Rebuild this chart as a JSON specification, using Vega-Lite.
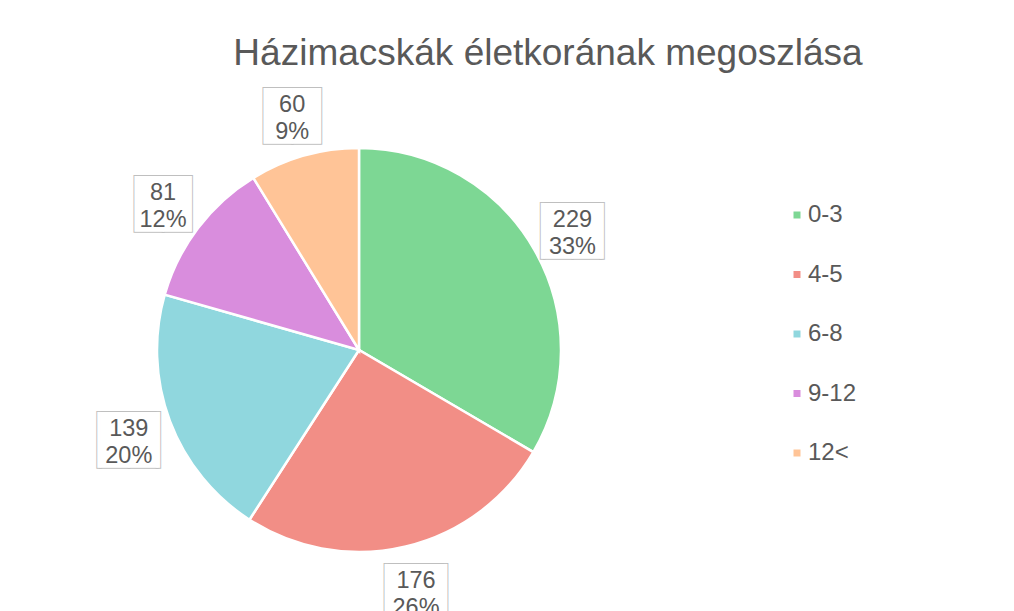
{
  "$schema": "https://vega.github.io/schema/vega-lite/v6.json",
  "autosize": {"type": "none"},
  "padding": {"left": 0, "top": 0, "right": 296, "bottom": 0},
  "width": 718,
  "height": 700,
  "background": "white",
  "config": {"view": {"stroke": null}},
  "title": {
    "text": "Házimacskák életkorának megoszlása",
    "anchor": "middle",
    "frame": "group",
    "dx": 189,
    "offset": -102,
    "baseline": "alphabetic",
    "fontSize": 37,
    "font": "Liberation Sans",
    "fontWeight": "normal",
    "color": "#595959",
    "limit": 1000
  },
  "data": {
    "values": [
      {"age": "0-3", "count": 229, "rank": 1, "label": "229\n33%"},
      {"age": "4-5", "count": 176, "rank": 2, "label": "176\n26%"},
      {"age": "6-8", "count": 139, "rank": 3, "label": "139\n20%"},
      {"age": "9-12", "count": 81, "rank": 4, "label": "81\n12%"},
      {"age": "12<", "count": 60, "rank": 5, "label": "60\n9%"}
    ]
  },
  "encoding": {
    "theta": {"field": "count", "type": "quantitative", "stack": true},
    "order": {"field": "rank", "type": "quantitative"}
  },
  "layer": [
    {
      "mark": {"type": "arc", "outerRadius": 202, "stroke": "white", "strokeWidth": 2.5},
      "encoding": {
        "color": {
          "field": "age",
          "type": "nominal",
          "scale": {
            "domain": ["0-3", "4-5", "6-8", "9-12", "12<"],
            "range": ["#7dd794", "#f28e86", "#90d7de", "#d98ddd", "#ffc497"]
          },
          "legend": {
            "title": null,
            "orient": "none",
            "legendX": 785,
            "legendY": 203,
            "padding": 0,
            "symbolType": "square",
            "symbolSize": 49,
            "symbolStrokeWidth": 0,
            "labelFontSize": 24,
            "labelFont": "Liberation Sans",
            "labelColor": "#595959",
            "labelOffset": -1,
            "rowPadding": 35.5
          }
        }
      }
    },
    {
      "mark": {"type": "text", "radius": 246, "dy": 5, "font": "DejaVu Sans Mono", "fontSize": 47, "baseline": "middle", "align": "center", "fill": "white", "stroke": "#bfbfbf", "strokeWidth": 2},
      "encoding": {"text": {"condition": {"test": "datum.count >= 100", "value": "▕██▏"}, "value": "██"}}
    },
    {
      "mark": {"type": "text", "radius": 246, "dy": 5, "font": "DejaVu Sans Mono", "fontSize": 47, "baseline": "middle", "align": "center", "fill": "white"},
      "encoding": {"text": {"condition": {"test": "datum.count >= 100", "value": "▕██▏"}, "value": "██"}}
    },
    {
      "mark": {"type": "text", "radius": 246, "dy": -8, "font": "Liberation Sans", "fontSize": 23.5, "lineHeight": 27, "lineBreak": "\n", "baseline": "middle", "align": "center", "color": "#595959"},
      "encoding": {"text": {"field": "label"}}
    }
  ]
}
